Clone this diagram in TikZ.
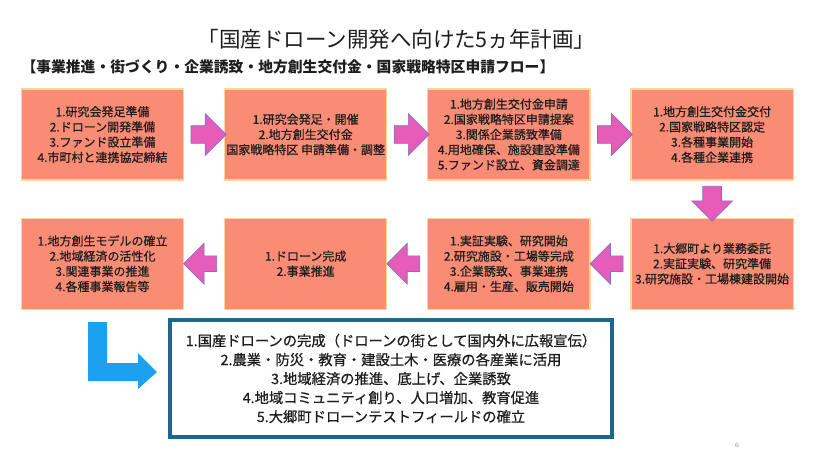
\documentclass[tikz,border=0pt]{standalone}
\usepackage{fontspec}
\newfontfamily\jpfont{Noto Sans CJK JP}
\newfontfamily\jpmed[FakeBold=0.7]{Noto Sans CJK JP}
\usetikzlibrary{shapes.arrows,calc}
\definecolor{boxfill}{RGB}{250,140,118}
\definecolor{boxline}{RGB}{250,214,150}
\definecolor{arrowfill}{RGB}{230,92,184}
\definecolor{arrowline}{RGB}{128,112,200}
\definecolor{goalline}{RGB}{30,102,140}
\definecolor{goalarrow}{RGB}{28,160,240}
\definecolor{inktext}{RGB}{30,30,30}
\begin{document}
\begin{tikzpicture}[x=1pt,y=-1pt,font=\jpfont,text=inktext]
  \tikzstyle{stage}=[draw=boxline,line width=1.2pt,fill=boxfill,minimum width=162pt,minimum height=91pt,inner sep=1pt,align=center,font=\jpmed\fontsize{12}{15.2}\selectfont]
  \tikzstyle{flow}=[single arrow,draw=arrowline,fill=arrowfill,line width=0.7pt,inner sep=8.5pt,single arrow head extend=12pt,minimum width=0pt,minimum height=35pt]
  \tikzstyle{goal}=[draw=goalline,line width=3.2pt,fill=white,minimum width=442pt,minimum height=117pt,align=center,font=\jpmed\fontsize{14.3}{19}\selectfont]
  \useasboundingbox (0,0) rectangle (819,460);

  \node[font=\jpfont\fontsize{21.5}{24}\selectfont] (title) at (396.5,39) {「国産ドローン開発へ向けた5ヵ年計画」};
  \node[anchor=west,font=\jpfont\bfseries\fontsize{14.8}{17}\selectfont] (subtitle) at (18,67) {【事業推進・街づくり・企業誘致・地方創生交付金・国家戦略特区申請フロー】};

  \matrix [column sep=40pt,row sep=37pt,matrix anchor=s1.center] at (102.5,134.5)
  {
    \node[stage] (s1) {1.研究会発足準備\\2.ドローン開発準備\\3.ファンド設立準備\\4.市町村と連携協定締結}; &
    \node[stage] (s2) {1.研究会発足・開催\\2.地方創生交付金\\国家戦略特区 申請準備・調整}; &
    \node[stage] (s3) {1.地方創生交付金申請\\2.国家戦略特区申請提案\\3.関係企業誘致準備\\4.用地確保、施設建設準備\\5.ファンド設立、資金調達}; &
    \node[stage] (s4) {1.地方創生交付金交付\\2.国家戦略特区認定\\3.各種事業開始\\4.各種企業連携}; \\
    \node[stage] (s8) {1.地方創生モデルの確立\\2.地域経済の活性化\\3.関連事業の推進\\4.各種事業報告等}; &
    \node[stage] (s7) {1.ドローン完成\\2.事業推進}; &
    \node[stage] (s6) {1.実証実験、研究開始\\2.研究施設・工場等完成\\3.企業誘致、事業連携\\4.雇用・生産、販売開始}; &
    \node[stage] (s5) {1.大郷町より業務委託\\2.実証実験、研究準備\\3.研究施設・工場棟建設開始}; \\
  };

  \node[flow] (f1) at ($(s1.east)!0.5!(s2.west)$) {};
  \node[flow] (f2) at ($(s2.east)!0.5!(s3.west)$) {};
  \node[flow] (f3) at ($(s3.east)!0.5!(s4.west)$) {};
  \node[flow,shape border rotate=270,inner sep=9pt,single arrow head extend=11pt] (f4) at ($(s4.south)!0.5!(s5.north)$) {};
  \node[flow,shape border rotate=180,inner sep=7.5pt,minimum height=33pt,single arrow head extend=12.5pt] (f5) at ($(s5.west)!0.5!(s6.east)$) {};
  \node[flow,shape border rotate=180,inner sep=7.5pt,minimum height=33pt,single arrow head extend=12.5pt] (f6) at ($(s6.west)!0.5!(s7.east)$) {};
  \node[flow,shape border rotate=180,inner sep=7.5pt,minimum height=33pt,single arrow head extend=12.5pt] (f7) at ($(s7.west)!0.5!(s8.east)$) {};

  \node[goal] (goal) at (391,378.5) {1.国産ドローンの完成（ドローンの街として国内外に広報宣伝）\\2.農業・防災・教育・建設土木・医療の各産業に活用\\3.地域経済の推進、底上げ、企業誘致\\4.地域コミュニティ創り、人口増加、教育促進\\5.大郷町ドローンテストフィールドの確立};
  \fill[goalarrow] (88,322) -- (107,322) -- (107,363) -- (138,363) -- (138,353) -- (157,372) -- (138,389) -- (138,381) -- (88,381) -- cycle;

  \node[text=gray,font=\fontsize{7}{8}\selectfont] (page) at (737,445) {6};
\end{tikzpicture}
\end{document}
